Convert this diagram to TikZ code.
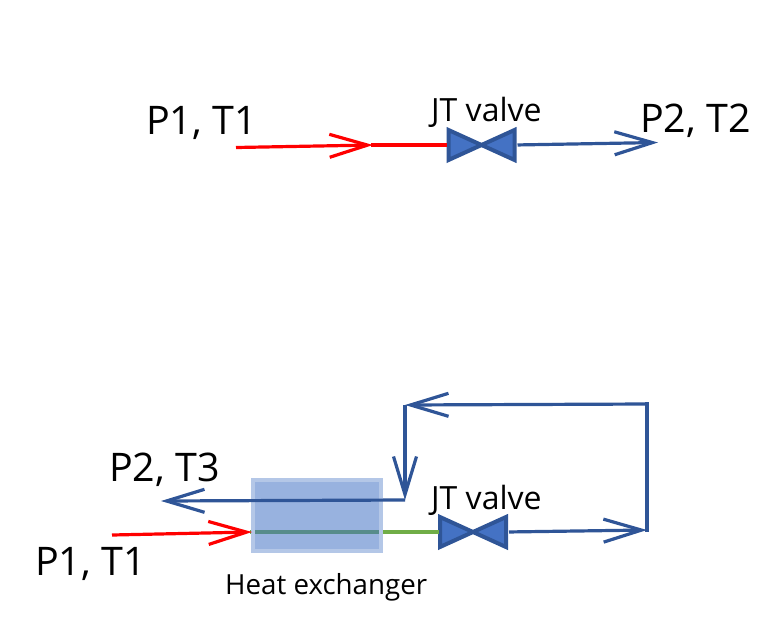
\documentclass[tikz,border=0pt]{standalone}
\usepackage{fontspec}
\setmainfont{Open Sans}
\usetikzlibrary{arrows.meta,shapes.geometric,positioning}
\definecolor{flowblue}{HTML}{2F5597}
\definecolor{valveblue}{HTML}{4472C4}
\definecolor{hxedge}{HTML}{B4C7E7}
\definecolor{hotred}{HTML}{FF0000}
\definecolor{coolgreen}{HTML}{70AD47}
\tikzset{
  stream/.style={line width=3.2pt,-{Straight Barb[length=38pt,width=23pt,line width=3.2pt]}},
  pipe/.style={line width=3.2pt,line cap=rect},
  valveleft/.style={isosceles triangle,isosceles triangle stretches,shape border rotate=0,
    minimum width=30pt,minimum height=33pt,inner sep=0pt,outer sep=0pt,
    draw=flowblue,fill=valveblue,line width=4pt,anchor=apex},
  valveright/.style={valveleft,shape border rotate=180},
  bigtext/.style={font=\fontsize{39.4}{44}\selectfont,anchor=base west,inner sep=0pt},
  midtext/.style={font=\fontsize{32}{36}\selectfont,anchor=base west,inner sep=0pt},
}
\begin{document}
\begin{tikzpicture}[x=1pt,y=-1pt]
        \useasboundingbox (0,0) rectangle (782,641);
        % upper circuit
        \node[bigtext] (p1_top) at (146,134) {P1, T1};
        \node[bigtext] (p2_top) at (640,132) {P2, T2};
        \node[midtext] (jt_top) at (431,121) {JT valve};
        \coordinate (in_top) at (236,147.5);
        \coordinate (mid_top) at (373,145);
        \coordinate (out_top) at (658,142.5);
        \node[valveleft] (v_1) at (481.5,145) {};
        \node[valveright] (v_2) at (481.5,145) {};
        \path[stream,hotred] (in_top) edge (mid_top);
        \path[pipe,hotred,shorten >=3pt] (mid_top) edge (v_1.lower side);
        \path[stream,flowblue,shorten <=3pt] (v_2.lower side) edge (out_top);
        % lower circuit
        \node[bigtext] (p2_low) at (109,481) {P2, T3};
        \node[bigtext] (p1_low) at (35,575) {P1, T1};
        \node[midtext] (jt_low) at (431,509) {JT valve};
        \node[midtext,font=\fontsize{27.7}{31}\selectfont] (hx_text) at (225,594) {Heat exchanger};
        \coordinate (in_low) at (112,535);
        \coordinate (hx_in) at (252,532);
        \coordinate (turn_a) at (647,530);
        \coordinate (turn_b) at (647,404);
        \coordinate (turn_c) at (405,405);
        \coordinate (turn_d) at (405,500);
        \coordinate (out_low) at (161,501);
        \node[valveleft] (v_3) at (473,532) {};
        \node[valveright] (v_4) at (473,532) {};
        \path[pipe,coolgreen,line width=4pt,shorten >=3pt] (hx_in) edge (v_3.lower side);
        \node[draw=hxedge,fill=valveblue,fill opacity=.55,draw opacity=1,line width=4pt,
          minimum width=128pt,minimum height=71pt,inner sep=0pt] (hx) at (317,515.5) {};
        \path[stream,hotred] (in_low) edge (hx_in);
        \path[stream,flowblue,shorten <=3pt] (v_4.lower side) edge (turn_a);
        \path[pipe,flowblue] (turn_a) edge (turn_b);
        \path[stream,flowblue] (turn_b) edge (turn_c);
        \path[stream,flowblue] (turn_c) edge (turn_d);
        \path[stream,flowblue] (turn_d) edge (out_low);
\end{tikzpicture}
\end{document}
